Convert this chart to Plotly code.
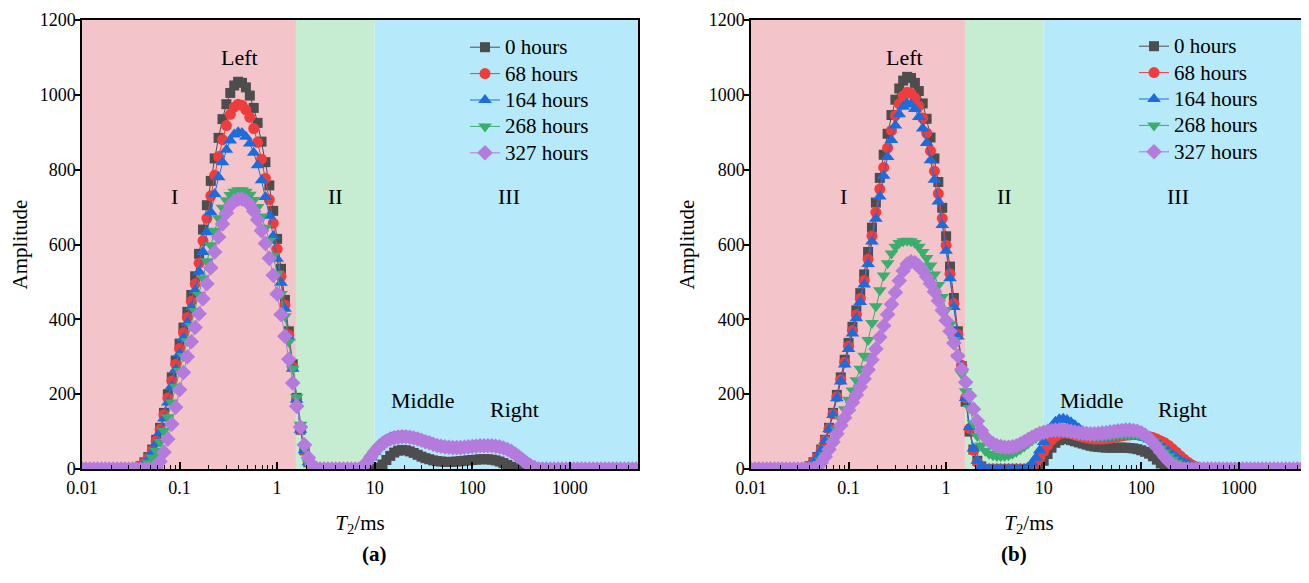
import math
import plotly.graph_objects as go

# ---------------- data ----------------
# T2 relaxation time grid (ms), log spaced, 25 points per decade
T2_MS = [
    0.01, 0.01096, 0.01202, 0.01318, 0.01445, 0.01585, 0.01738, 0.01905, 0.02089, 0.02291, 0.02512, 0.02754, 0.0302, 0.03311, 0.03631, 0.03981, 0.04365, 0.04786, 0.05248, 0.05754, 0.0631, 0.06918, 0.07586, 0.08318, 0.0912,
    0.1, 0.1096, 0.1202, 0.1318, 0.1445, 0.1585, 0.1738, 0.1905, 0.2089, 0.2291, 0.2512, 0.2754, 0.302, 0.3311, 0.3631, 0.3981, 0.4365, 0.4786, 0.5248, 0.5754, 0.631, 0.6918, 0.7586, 0.8318, 0.912,
    1, 1.096, 1.202, 1.318, 1.445, 1.585, 1.738, 1.905, 2.089, 2.291, 2.512, 2.754, 3.02, 3.311, 3.631, 3.981, 4.365, 4.786, 5.248, 5.754, 6.31, 6.918, 7.586, 8.318, 9.12,
    10, 10.96, 12.02, 13.18, 14.45, 15.85, 17.38, 19.05, 20.89, 22.91, 25.12, 27.54, 30.2, 33.11, 36.31, 39.81, 43.65, 47.86, 52.48, 57.54, 63.1, 69.18, 75.86, 83.18, 91.2,
    100, 109.6, 120.2, 131.8, 144.5, 158.5, 173.8, 190.5, 208.9, 229.1, 251.2, 275.4, 302, 331.1, 363.1, 398.1, 436.5, 478.6, 524.8, 575.4, 631, 691.8, 758.6, 831.8, 912,
    1000, 1096, 1202, 1318, 1445, 1585, 1738, 1905, 2089, 2291, 2512, 2754, 3020, 3311, 3631, 3981, 4365, 4786, 5248,
]

SERIES_NAMES = ["0 hours", "68 hours", "164 hours", "268 hours", "327 hours"]

# ---- panel (a) amplitudes ----
AMP_A_0H = [
    0, 0, 0, 0, 0, 0, 0, 0, 0, 0, 0, 0, 0, 0, 3, 8, 18, 32, 52, 78, 110, 150, 200, 245, 290,
    335, 378, 420, 465, 515, 575, 640, 705, 770, 830, 885, 935, 975, 1005, 1025, 1035, 1032, 1020, 998, 965, 925, 875, 820, 758, 690,
    615, 535, 452, 368, 280, 190, 105, 50, 18, 4, 0, 0, 0, 0, 0, 0, 0, 0, 0, 0, 0, 0, 0, 0, 0,
    0, 4, 12, 24, 35, 44, 49, 51, 50, 47, 43, 38, 33, 29, 26, 23, 21, 20, 19, 19, 19, 20, 21, 22, 23,
    24, 25, 26, 26, 26, 25, 23, 20, 16, 11, 6, 2, 0, 0, 0, 0, 0, 0, 0, 0, 0, 0, 0, 0, 0,
    0, 0, 0, 0, 0, 0, 0, 0, 0, 0, 0, 0, 0, 0, 0, 0, 0, 0, 0,
]
AMP_A_68H = [
    0, 0, 0, 0, 0, 0, 0, 0, 0, 0, 0, 0, 0, 0, 3, 8, 17, 30, 50, 75, 106, 145, 190, 235, 280,
    322, 364, 405, 448, 495, 550, 610, 670, 730, 785, 835, 880, 918, 948, 967, 975, 972, 960, 940, 910, 873, 828, 777, 720, 657,
    588, 515, 438, 358, 272, 185, 105, 50, 18, 4, 0, 0, 0, 0, 0, 0, 0, 0, 0, 0, 0, 0, 6, 18, 33,
    47, 59, 69, 77, 82, 86, 88, 89, 88, 87, 85, 82, 78, 74, 71, 67, 64, 62, 60, 59, 58, 58, 58, 59, 60,
    61, 62, 63, 63, 63, 62, 61, 59, 56, 52, 47, 40, 32, 24, 16, 9, 4, 1, 0, 0, 0, 0, 0, 0, 0,
    0, 0, 0, 0, 0, 0, 0, 0, 0, 0, 0, 0, 0, 0, 0, 0, 0, 0, 0,
]
AMP_A_164H = [
    0, 0, 0, 0, 0, 0, 0, 0, 0, 0, 0, 0, 0, 0, 2, 6, 14, 26, 44, 68, 98, 135, 178, 222, 266,
    308, 350, 390, 432, 477, 527, 580, 633, 686, 735, 780, 820, 853, 878, 894, 900, 898, 888, 870, 845, 812, 772, 727, 677, 622,
    562, 498, 428, 352, 268, 185, 105, 50, 18, 4, 0, 0, 0, 0, 0, 0, 0, 0, 0, 0, 0, 0, 5, 16, 31,
    46, 59, 70, 78, 84, 87, 89, 89, 89, 87, 85, 82, 79, 75, 72, 68, 65, 63, 61, 60, 59, 59, 59, 60, 61,
    62, 63, 64, 64, 64, 63, 62, 60, 57, 54, 49, 43, 36, 28, 20, 13, 8, 4, 2, 0, 0, 0, 0, 0, 0,
    0, 0, 0, 0, 0, 0, 0, 0, 0, 0, 0, 0, 0, 0, 0, 0, 0, 0, 0,
]
AMP_A_268H = [
    0, 0, 0, 0, 0, 0, 0, 0, 0, 0, 0, 0, 0, 0, 0, 3, 8, 17, 30, 48, 72, 102, 138, 178, 220,
    262, 302, 342, 382, 422, 465, 510, 555, 598, 637, 670, 698, 718, 732, 741, 745, 745, 741, 733, 719, 700, 675, 645, 610, 570,
    522, 468, 408, 340, 268, 192, 118, 56, 17, 3, 0, 0, 0, 0, 0, 0, 0, 0, 0, 0, 0, 0, 4, 14, 28,
    42, 55, 66, 74, 80, 84, 86, 87, 87, 86, 84, 81, 77, 74, 70, 67, 64, 61, 60, 58, 58, 58, 58, 59, 60,
    61, 62, 62, 63, 62, 62, 60, 58, 55, 51, 46, 39, 31, 23, 15, 9, 4, 1, 0, 0, 0, 0, 0, 0, 0,
    0, 0, 0, 0, 0, 0, 0, 0, 0, 0, 0, 0, 0, 0, 0, 0, 0, 0, 0,
]
AMP_A_327H = [
    0, 0, 0, 0, 0, 0, 0, 0, 0, 0, 0, 0, 0, 0, 0, 0, 0, 0, 0, 5, 20, 45, 80, 120, 165,
    212, 258, 300, 340, 378, 415, 455, 495, 538, 580, 620, 655, 684, 704, 716, 721, 722, 717, 706, 689, 666, 637, 603, 563, 518,
    468, 413, 355, 293, 230, 168, 112, 65, 30, 10, 2, 0, 0, 0, 0, 0, 0, 0, 0, 0, 0, 0, 6, 18, 32,
    46, 58, 68, 75, 80, 83, 85, 86, 86, 85, 83, 80, 77, 73, 70, 66, 63, 61, 59, 58, 57, 57, 57, 58, 59,
    60, 61, 62, 62, 62, 62, 61, 59, 56, 52, 47, 40, 32, 23, 15, 8, 3, 0, 0, 0, 0, 0, 0, 0, 0,
    0, 0, 0, 0, 0, 0, 0, 0, 0, 0, 0, 0, 0, 0, 0, 0, 0, 0, 0,
]

# ---- panel (b) amplitudes ----
AMP_B_0H = [
    0, 0, 0, 0, 0, 0, 0, 0, 0, 0, 0, 0, 0, 0, 3, 8, 18, 32, 52, 78, 110, 150, 198, 245, 292,
    337, 380, 424, 470, 520, 580, 645, 712, 778, 840, 896, 946, 987, 1017, 1038, 1048, 1045, 1032, 1010, 977, 936, 886, 830, 767, 698,
    622, 541, 457, 368, 275, 180, 100, 52, 22, 7, 0, 0, 0, 0, 0, 0, 0, 0, 0, 0, 0, 0, 0, 0, 8,
    22, 40, 57, 70, 77, 80, 80, 77, 74, 71, 68, 65, 62, 60, 59, 58, 57, 57, 57, 57, 57, 57, 56, 55, 53,
    50, 46, 41, 34, 25, 15, 7, 2, 0, 0, 0, 0, 0, 0, 0, 0, 0, 0, 0, 0, 0, 0, 0, 0, 0,
    0, 0, 0, 0, 0, 0, 0, 0, 0, 0, 0, 0, 0, 0, 0, 0, 0, 0, 0,
]
AMP_B_68H = [
    0, 0, 0, 0, 0, 0, 0, 0, 0, 0, 0, 0, 0, 0, 3, 8, 17, 31, 51, 77, 108, 147, 193, 239, 285,
    328, 370, 412, 456, 504, 561, 623, 686, 748, 806, 858, 905, 945, 976, 997, 1007, 1004, 992, 970, 938, 898, 850, 796, 736, 670,
    598, 522, 442, 360, 277, 190, 108, 50, 18, 5, 0, 0, 0, 0, 0, 0, 0, 0, 0, 0, 0, 0, 6, 16, 30,
    47, 63, 77, 87, 93, 96, 96, 94, 91, 88, 85, 83, 81, 80, 80, 80, 81, 82, 84, 86, 88, 90, 91, 92, 92,
    91, 89, 87, 84, 80, 75, 70, 63, 54, 45, 35, 26, 18, 11, 6, 3, 1, 0, 0, 0, 0, 0, 0, 0, 0,
    0, 0, 0, 0, 0, 0, 0, 0, 0, 0, 0, 0, 0, 0, 0, 0, 0, 0, 0,
]
AMP_B_164H = [
    0, 0, 0, 0, 0, 0, 0, 0, 0, 0, 0, 0, 0, 0, 3, 8, 17, 30, 50, 75, 106, 144, 189, 234, 279,
    321, 362, 403, 446, 493, 548, 608, 669, 728, 784, 834, 879, 918, 948, 968, 977, 974, 962, 941, 910, 871, 825, 773, 715, 652,
    583, 510, 433, 354, 274, 190, 112, 55, 22, 7, 0, 0, 0, 0, 0, 0, 0, 0, 0, 0, 0, 5, 15, 30, 50,
    72, 94, 113, 126, 133, 134, 131, 125, 117, 109, 101, 95, 90, 87, 85, 84, 84, 85, 86, 87, 88, 89, 89, 89, 88,
    86, 83, 79, 75, 70, 62, 54, 46, 38, 30, 23, 17, 12, 8, 5, 2, 0, 0, 0, 0, 0, 0, 0, 0, 0,
    0, 0, 0, 0, 0, 0, 0, 0, 0, 0, 0, 0, 0, 0, 0, 0, 0, 0, 0,
]
AMP_B_268H = [
    0, 0, 0, 0, 0, 0, 0, 0, 0, 0, 0, 0, 0, 0, 0, 2, 6, 13, 23, 37, 55, 78, 105, 133, 160,
    185, 210, 237, 268, 303, 345, 390, 435, 478, 517, 550, 576, 594, 604, 609, 610, 609, 604, 594, 580, 564, 544, 520, 492, 460,
    425, 387, 345, 300, 254, 208, 163, 122, 88, 63, 49, 41, 37, 35, 34, 35, 37, 41, 46, 53, 60, 68, 76, 83, 89,
    94, 97, 99, 100, 100, 99, 97, 95, 93, 91, 89, 88, 87, 86, 86, 86, 87, 88, 89, 90, 91, 92, 92, 92, 91,
    89, 86, 81, 74, 65, 55, 44, 34, 25, 17, 10, 5, 2, 0, 0, 0, 0, 0, 0, 0, 0, 0, 0, 0, 0,
    0, 0, 0, 0, 0, 0, 0, 0, 0, 0, 0, 0, 0, 0, 0, 0, 0, 0, 0,
]
AMP_B_327H = [
    0, 0, 0, 0, 0, 0, 0, 0, 0, 0, 0, 0, 0, 0, 0, 0, 0, 5, 17, 33, 52, 72, 94, 116, 137,
    158, 178, 198, 219, 241, 265, 292, 321, 352, 383, 413, 440, 472, 503, 530, 548, 554, 551, 543, 530, 514, 495, 474, 450, 424,
    397, 368, 337, 302, 266, 232, 196, 160, 128, 103, 86, 75, 68, 63, 60, 58, 58, 59, 62, 67, 73, 79, 85, 90, 95,
    98, 101, 103, 104, 104, 104, 103, 101, 99, 97, 96, 95, 94, 94, 95, 96, 97, 99, 100, 102, 103, 104, 104, 103, 101,
    97, 91, 82, 71, 58, 45, 32, 21, 12, 6, 2, 0, 0, 0, 0, 0, 0, 0, 0, 0, 0, 0, 0, 0, 0,
    0, 0, 0, 0, 0, 0, 0, 0, 0, 0, 0, 0, 0, 0, 0, 0, 0, 0, 0,
]

PANEL_A = [AMP_A_0H, AMP_A_68H, AMP_A_164H, AMP_A_268H, AMP_A_327H]
PANEL_B = [AMP_B_0H, AMP_B_68H, AMP_B_164H, AMP_B_268H, AMP_B_327H]

X_TICKS = [0.01, 0.1, 1, 10, 100, 1000]
X_TICK_TEXT = ["0.01", "0.1", "1", "10", "100", "1000"]
REGION_EDGES = [0.01, 1.56, 10, 5000]  # I | II | III

for arr in PANEL_A + PANEL_B:
    assert len(arr) == len(T2_MS), (len(arr), len(T2_MS))

# ---------------- style ----------------
COLORS = ["#4D4D4D", "#EF3D3D", "#1D6CDC", "#3AAE6C", "#B47BDD"]
SYMBOLS = ["square", "circle", "triangle-up", "triangle-down", "diamond"]
SIZES = [10, 11, 12, 12, 12]
REGION_COLORS = ["#F3C5CA", "#C6ECD1", "#B6E9FA"]
FONT = "Liberation Serif"

W, H = 1309, 583
OFF = 8  # page offset of the figure div (body margin)


def px_x(p):
    return (p - OFF) / W


def px_y(p):
    return 1 - (p - OFF) / H


XDOM = [[px_x(82), px_x(638)], [px_x(751), px_x(1307)]]
YDOM = [px_y(469), px_y(20)]

fig = go.Figure()

panels = [("x", "y", "legend", PANEL_A), ("x2", "y2", "legend2", PANEL_B)]
for xa, ya, lg, data in panels:
    for name, vals, col, sym, sz in zip(SERIES_NAMES, data, COLORS, SYMBOLS, SIZES):
        fig.add_trace(go.Scatter(
            x=T2_MS, y=vals, name='<span style="font-size:21px">' + name + '</span>',
            mode="lines+markers",
            line=dict(color=col, width=1),
            marker=dict(symbol=sym, size=sz, color=col, line=dict(width=0)),
            xaxis=xa, yaxis=ya, legend=lg,
        ))

# shaded regions
for xa, ya in [("x", "y"), ("x2", "y2")]:
    for i, c in enumerate(REGION_COLORS):
        fig.add_shape(type="rect", xref=xa, yref=ya,
                      x0=REGION_EDGES[i], x1=REGION_EDGES[i + 1], y0=0, y1=1200,
                      fillcolor=c, line=dict(width=0), layer="below")

minor_vals = [m * 10 ** e for e in range(-2, 4) for m in range(2, 10)]

axis_common_x = dict(
    type="log", range=[-2, math.log10(5000)],
    tickvals=X_TICKS, ticktext=X_TICK_TEXT,
    ticks="inside", ticklen=7, tickwidth=1.5, tickcolor="black",
    minor=dict(tickvals=minor_vals, ticks="inside", ticklen=4, tickwidth=1, tickcolor="black", showgrid=False),
    showline=True, linecolor="black", linewidth=1.5, mirror=True,
    showgrid=False, zeroline=False, automargin=False,
    ticklabelstandoff=2,
    tickfont=dict(size=18, family=FONT, color="black"),
    title=dict(text="<i>T</i><sub>2</sub>/ms", font=dict(size=21, family=FONT, color="black"), standoff=18),
)
axis_common_y = dict(
    range=[0, 1200], dtick=200, tick0=0,
    ticks="outside", ticklen=5, tickwidth=1.5, tickcolor="black",
    showline=True, linecolor="black", linewidth=1.5, mirror=True,
    showgrid=False, zeroline=False, automargin=False,
    ticklabelstandoff=-4,
    tickfont=dict(size=18, family=FONT, color="black"),
    title=dict(text="Amplitude", font=dict(size=21, family=FONT, color="black"), standoff=8),
    domain=YDOM,
)

fig.update_layout(
    xaxis={**axis_common_x, "domain": XDOM[0], "anchor": "y"},
    yaxis={**axis_common_y, "anchor": "x"},
    xaxis2={**axis_common_x, "domain": XDOM[1], "anchor": "y2"},
    yaxis2={**axis_common_y, "anchor": "x2"},
    width=W, height=H, margin=dict(l=0, r=0, t=0, b=0, autoexpand=False),
    paper_bgcolor="white", plot_bgcolor="white",
    font=dict(family=FONT, color="black"),
    showlegend=True,
    legend=dict(x=px_x(465), y=px_y(29), xanchor="left", yanchor="top",
                bgcolor="rgba(0,0,0,0)", font=dict(size=18, family=FONT, color="black"),
                tracegroupgap=0, itemclick=False),
    legend2=dict(x=px_x(1134), y=px_y(28), xanchor="left", yanchor="top",
                 bgcolor="rgba(0,0,0,0)", font=dict(size=18, family=FONT, color="black"),
                 tracegroupgap=0, itemclick=False),
)

# region / peak labels (x given as log10 for annotations on log axes)
LABELS_A = [("Left", 0.41, 1101), ("I", 0.0897, 727), ("II", 3.92, 727), ("III", 238, 727),
            ("Middle", 31, 182), ("Right", 268, 158)]
LABELS_B = [("Left", 0.37, 1101), ("I", 0.0877, 727), ("II", 3.92, 727), ("III", 238, 727),
            ("Middle", 31, 182), ("Right", 262, 158)]
for (xa, ya), labels in [(("x", "y"), LABELS_A), (("x2", "y2"), LABELS_B)]:
    for txt, xv, yv in labels:
        fig.add_annotation(x=math.log10(xv), y=yv, xref=xa, yref=ya, text=txt,
                           showarrow=False, font=dict(size=22, family=FONT, color="black"))

for txt, px in [("<b>(a)</b>", 360), ("<b>(b)</b>", 1029)]:
    fig.add_annotation(x=px_x(px), y=px_y(568), xref="paper", yref="paper", text=txt,
                       showarrow=False, font=dict(size=21, family=FONT, color="black"))

fig.write_html("out.html")
